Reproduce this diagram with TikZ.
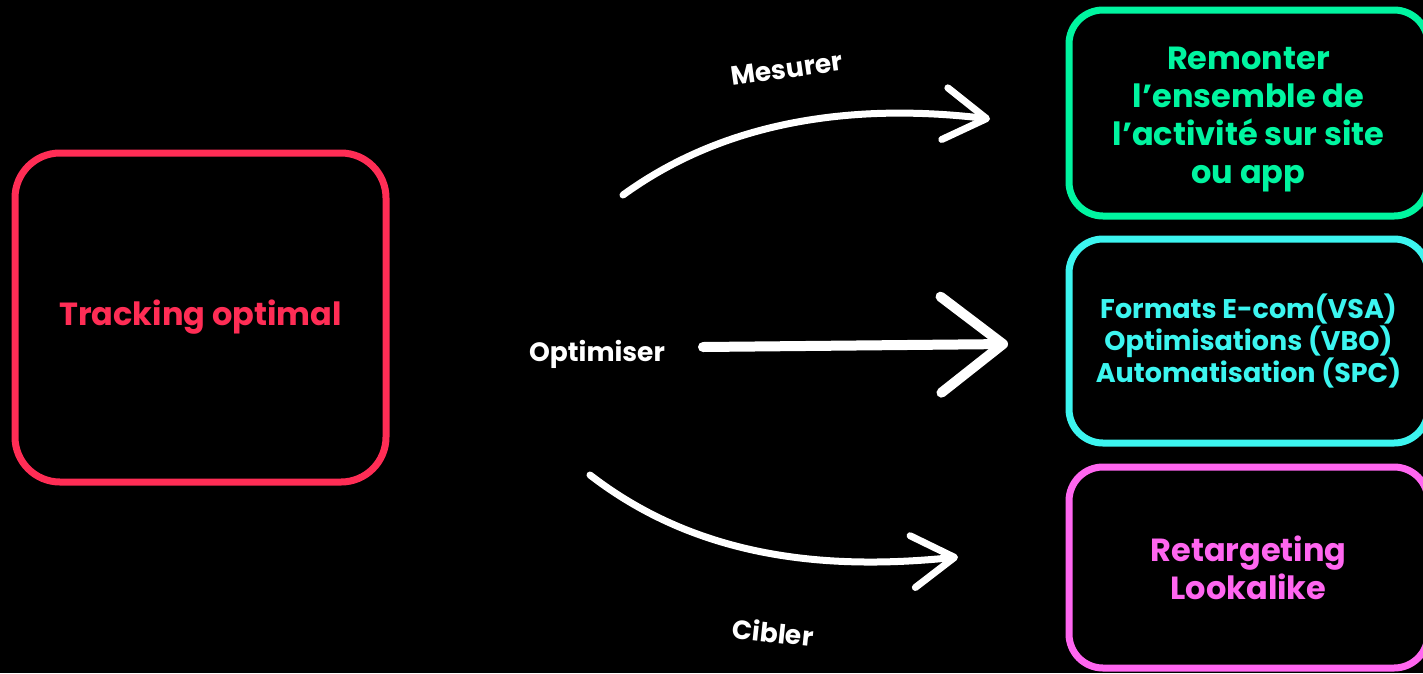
\documentclass[tikz,border=0pt]{standalone}
\usepackage{fontspec}
\setmainfont{Poppins}[BoldFont={* Bold}]
\usetikzlibrary{arrows.meta}
\definecolor{rouge}{RGB}{255,45,85}
\definecolor{vert}{RGB}{0,245,160}
\definecolor{cyan2}{RGB}{60,245,240}
\definecolor{rose}{RGB}{255,102,240}

\begin{document}
\begin{tikzpicture}[x=1pt,y=-1pt,
        boite/.style={draw, rectangle, line width=7pt, rounded corners=34pt, align=center, inner sep=0pt,
            font=\bfseries\fontsize{32}{38}\selectfont},
        fleche/.style={white, line width=7pt, line cap=round,
            -{Straight Barb[length=42pt,width=52pt,round]}},
        etiquette/.style={white, font=\bfseries\fontsize{26.5}{30}\selectfont}]
        \fill[black] (0,0) rectangle (1423,673);
        \clip (0,0) rectangle (1423,673);
        % les boites
        \node[boite, draw=rouge, text=rouge, minimum width=371pt, minimum height=329pt, rounded corners=45pt,
            font=\bfseries\fontsize{32}{36}\selectfont] (tracking) at (200.5,317.5) {Tracking optimal};
        \node[boite, draw=vert, text=vert, minimum width=359pt, minimum height=206pt] (remonter) at (1248.5,113)
            {\rule{0pt}{35pt}Remonter\\l’ensemble de\\l’activité sur site\\ou app};
        \node[boite, draw=cyan2, text=cyan2, minimum width=359pt, minimum height=204pt,
            font=\bfseries\fontsize{27}{32}\selectfont] (formats) at (1248.5,341)
            {Formats E-com(VSA)\\Optimisations (VBO)\\Automatisation (SPC)};
        \node[boite, draw=rose, text=rose, minimum width=359pt, minimum height=201pt] (retarget) at (1248.5,567.5)
            {Retargeting\\Lookalike};
        % les fleches
        \coordinate (mes-a) at (623,195);
        \coordinate (mes-b) at (990,119);
        \coordinate (opt-a) at (703,347);
        \coordinate (opt-b) at (1008,344);
        \coordinate (cib-a) at (590,475);
        \coordinate (cib-b) at (958,557);
        \draw[fleche] (mes-a) .. controls (740,110) and (880,106) .. (mes-b);
        \draw[fleche, line width=10pt, -{Straight Barb[length=62pt,width=96pt,round]}] (opt-a) -- (opt-b);
        \draw[fleche] (cib-a) .. controls (700,560) and (830,570) .. (cib-b);
        \node[etiquette, rotate=8] (mesurer) at (787,69) {Mesurer};
        \node[etiquette] (optimiser) at (597,354) {Optimiser};
        \node[etiquette, rotate=-6] (cibler) at (773,632) {Cibler};
    \end{tikzpicture}
\end{document}
